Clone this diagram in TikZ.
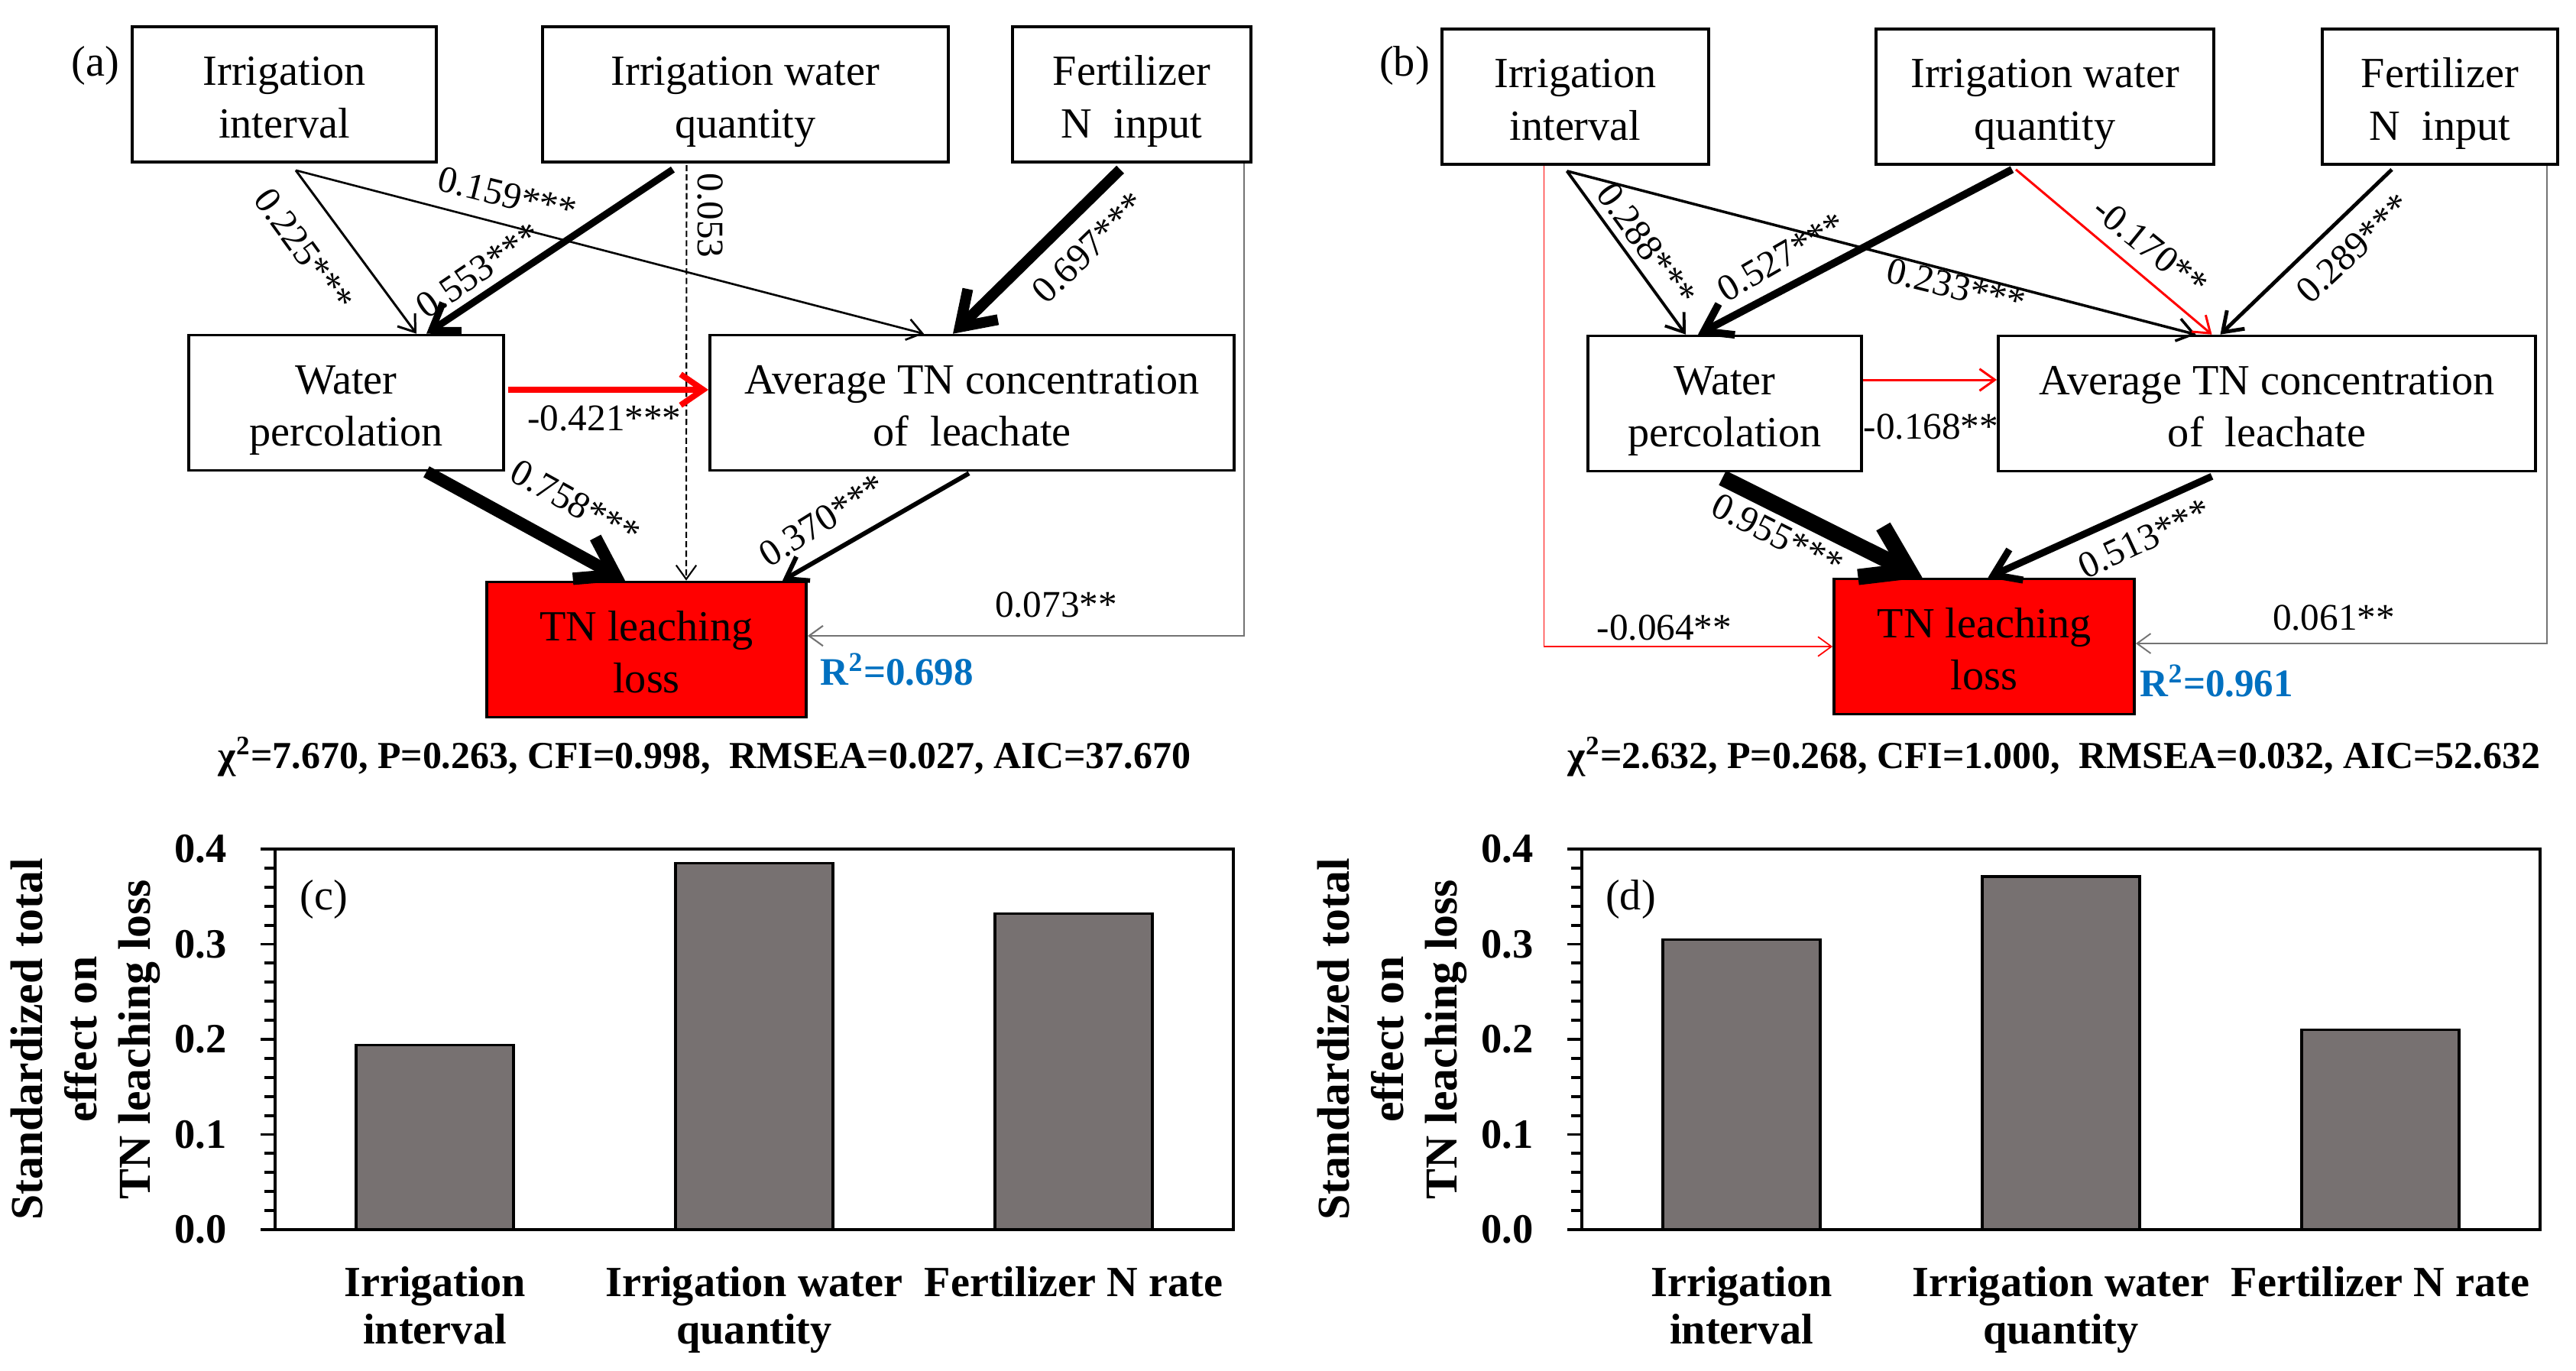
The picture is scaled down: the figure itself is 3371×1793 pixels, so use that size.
\documentclass[tikz,border=0pt]{standalone}
\usepackage{fontspec}
\setmainfont{Liberation Serif}
\usetikzlibrary{arrows.meta,calc}

\definecolor{rsqblue}{RGB}{0,112,192}
\definecolor{barfill}{RGB}{119,113,113}

% two lines of a box, with fixed room above and below
\newcommand{\boxlines}[2]{\rule{0pt}{16.8pt}#1\\#2\rule[-4pt]{0pt}{4pt}}

\tikzset{
  box/.style={draw, line width=1pt, inner sep=0pt, align=center, minimum height=1.77cm,
    font=\fontsize{16}{19.6}\selectfont},
  coef/.style={inner sep=0pt, font=\fontsize{14}{16}\selectfont},
  tag/.style={inner sep=0pt, font=\fontsize{16}{19}\selectfont},
  rsq/.style={inner sep=0pt, anchor=west, text=rsqblue, font=\fontsize{14.5}{17}\selectfont\bfseries},
  gof/.style={inner sep=0pt, font=\fontsize{14.2}{17}\selectfont\bfseries},
  link/.style={-{Straight Barb[length=4pt 2, width=6pt 2.5, sharp]}},
  axis/.style={line width=1.1pt},
  bar/.style={draw, line width=0.95pt, fill=barfill},
  ticklab/.style={inner sep=0pt, anchor=east, font=\fontsize{15.5}{18}\selectfont\bfseries},
  cat/.style={inner sep=0pt, anchor=north, align=center, font=\fontsize{16}{17.5}\selectfont\bfseries},
  ytitle/.style={inner sep=0pt, align=center, rotate=90, font=\fontsize{17}{20}\selectfont\bfseries}
}

\begin{document}
\begin{tikzpicture}[x=0.01cm, y=-0.01cm]
\useasboundingbox (0,0) rectangle (3371,1793);

% (a) path model
\node[tag] (taga) at (125,86) {(a)};
\node[box, minimum width=3.98cm] (iia) at (372,123.5) {\boxlines{Irrigation}{interval}};
\node[box, minimum width=5.31cm] (iwqa) at (975.5,123.5) {\boxlines{Irrigation water}{quantity}};
\node[box, minimum width=3.12cm] (fna) at (1481,123.5) {\boxlines{Fertilizer}{N\ \ input}};
\node[box, minimum width=4.12cm] (wpa) at (453,527) {\boxlines{Water}{percolation}};
\node[box, minimum width=6.86cm] (avga) at (1272,527) {\boxlines{Average TN concentration}{of\ \ leachate}};
\node[box, fill=red, minimum width=4.18cm] (tna) at (846,850) {\boxlines{TN leaching}{loss}};

\draw[link, line width=0.85pt] ($(iia.south)+(15,9)$) -- ($(wpa.north)+(92,0)$);
\draw[link, line width=0.75pt] ($(iia.south)+(15,9)$) -- ($(avga.north)+(-63,0)$);
\draw[link, line width=2.6pt] ($(iwqa.south)+(-95,8)$) -- ($(wpa.north)+(105,0)$);
\draw[link, line width=0.6pt, dash pattern=on 2.3pt off 1.2pt] ($(iwqa.south)+(-77,2)$) -- ($(tna.north)+(52,0)$);
\draw[link, line width=4pt] ($(fna.south)+(-15,8)$) -- ($(avga.north)+(-25,0)$);
\draw[link, line width=0.6pt, black!55] ($(fna.south east)+(-11,0)$) |- ($(tna.east)+(0,-18)$);
\draw[link, line width=2.2pt, red] ($(wpa.east)+(4,-17)$) -- ($(avga.west)+(0,-17)$);
\draw[link, line width=4.6pt] ($(wpa.south)+(105,0)$) -- ($(tna.north)+(-28,0)$);
\draw[link, line width=1.7pt] ($(avga.south)+(-4,2)$) -- ($(tna.north)+(178,0)$);

\node[coef, rotate=-54] (ca1) at (398,327) {0.225***};
\node[coef, rotate=-14] (ca2) at (664,255) {0.159***};
\node[coef, rotate=34] (ca3) at (626,354) {0.553***};
\node[coef, rotate=-90] (ca4) at (930,282) {0.053};
\node[coef, rotate=44] (ca5) at (1425,324) {0.697***};
\node[coef] (ca6) at (791,547) {-0.421***};
\node[coef, rotate=-29] (ca7) at (753,658) {0.758***};
\node[coef, rotate=32] (ca8) at (1076,681) {0.370***};
\node[coef] (ca9) at (1382,791) {0.073**};
\node[rsq] (rsqa) at (1073,876) {R\textsuperscript{2}=0.698};
\node[gof] (gofa) at (922,990) {χ\textsuperscript{2}=7.670, P=0.263, CFI=0.998,\ \ RMSEA=0.027, AIC=37.670};

% (b) path model
\node[tag] (tagb) at (1838,86) {(b)};
\node[box, minimum width=3.49cm] (iib) at (2061.5,126.5) {\boxlines{Irrigation}{interval}};
\node[box, minimum width=4.42cm] (iwqb) at (2676,126.5) {\boxlines{Irrigation water}{quantity}};
\node[box, minimum width=3.08cm] (fnb) at (3193,126.5) {\boxlines{Fertilizer}{N\ \ input}};
\node[box, minimum width=3.58cm] (wpb) at (2257,528) {\boxlines{Water}{percolation}};
\node[box, minimum width=7.03cm] (avgb) at (2966.5,528) {\boxlines{Average TN concentration}{of\ \ leachate}};
\node[box, fill=red, minimum width=3.93cm] (tnb) at (2596.5,846) {\boxlines{TN leaching}{loss}};

\draw[link, line width=1.1pt] ($(iib.south)+(-11,7)$) -- ($(wpb.north)+(-51,0)$);
\draw[link, line width=1pt] ($(iib.south)+(-11,7)$) -- ($(avgb.north)+(-93,0)$);
\draw[link, line width=2.8pt] ($(iwqb.south)+(-43,5)$) -- ($(wpb.north)+(-35,0)$);
\draw[link, line width=0.85pt, red] ($(iwqb.south)+(-38,5)$) -- ($(avgb.north)+(-72,0)$);
\draw[link, line width=1.4pt] ($(fnb.south)+(-63,5)$) -- ($(avgb.north)+(-61,0)$);
\draw[link, line width=0.5pt, red] ($(iib.south)+(-41,0)$) |- (tnb.west);
\draw[link, line width=0.55pt, black!55] ($(fnb.south east)+(-16,0)$) |- ($(tnb.east)+(0,-4)$);
\draw[link, line width=0.85pt, red] ($(wpb.east)+(0,-31)$) -- ($(avgb.west)+(0,-31)$);
\draw[link, line width=6pt] ($(wpb.south)+(-3,7)$) -- ($(tnb.north)+(-81,0)$);
\draw[link, line width=2.6pt] ($(avgb.south)+(-72,5)$) -- ($(tnb.north)+(5,0)$);

\node[coef, rotate=-54] (cb1) at (2155,320) {0.288***};
\node[coef, rotate=-14] (cb2) at (2560,375) {0.233***};
\node[coef, rotate=30] (cb3) at (2331,336) {0.527***};
\node[coef, rotate=-39] (cb4) at (2814,323) {-0.170**};
\node[coef, rotate=43] (cb5) at (3080,325) {0.289***};
\node[coef] (cb6) at (2527,558) {-0.168**};
\node[coef] (cb7) at (2178,821) {-0.064**};
\node[coef] (cb8) at (3054,808) {0.061**};
\node[coef, rotate=-27] (cb9) at (2326,700) {0.955***};
\node[coef, rotate=25] (cb10) at (2806,705) {0.513***};
\node[rsq] (rsqb) at (2800,891) {R\textsuperscript{2}=0.961};
\node[gof] (gofb) at (2688,990) {χ\textsuperscript{2}=2.632, P=0.268, CFI=1.000,\ \ RMSEA=0.032, AIC=52.632};

% (c) and (d) total effects
\foreach \dx/\p/\va/\vb/\vc in {0/c/0.194/0.385/0.332, 1710/d/0.305/0.371/0.210} {
  \begin{scope}[shift={(\dx,0)}]
    \draw[bar] (466,1609) rectangle (672,{1609-1245*\va});
    \draw[bar] (884,1609) rectangle (1090,{1609-1245*\vb});
    \draw[bar] (1302,1609) rectangle (1508,{1609-1245*\vc});
    \draw[axis] (360,1111) rectangle (1614,1609);
    \foreach \t in {0,...,20}
      \draw[axis] (360,{1609-24.9*\t}) -- ++(-14,0);
    \foreach \t in {0,...,4} {
      \draw[axis] (360,{1609-124.5*\t}) -- ++(-19,0);
      \node[ticklab] (y\p\t) at (297,{1609-124.5*\t}) {0.\t};
    }
    \node[ytitle] (yt\p) at (112,1360) {Standardized total\\effect on\\TN leaching loss};
    \node[tag] (tag\p) at (424,1177) {(\p)};
    \node[cat] (x\p1) at (569,1657) {Irrigation\\interval};
    \node[cat] (x\p2) at (987,1657) {Irrigation water\\quantity};
    \node[cat] (x\p3) at (1405,1657) {Fertilizer N rate};
  \end{scope}
}
\end{tikzpicture}
\end{document}
